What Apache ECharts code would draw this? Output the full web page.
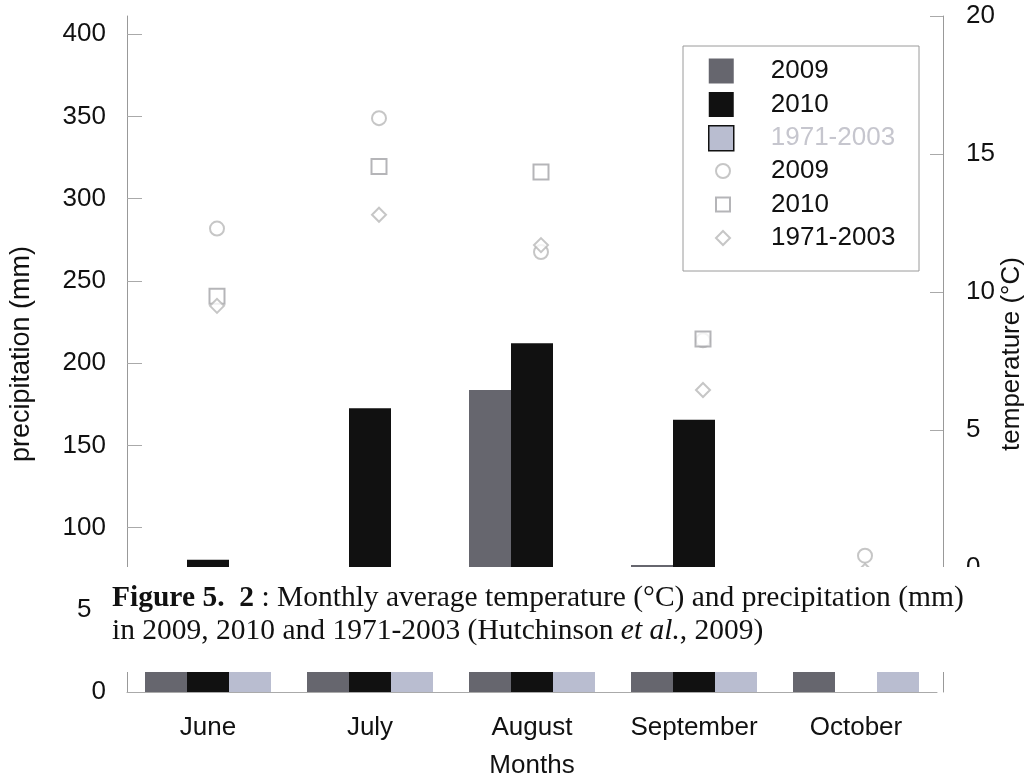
<!DOCTYPE html>
<html>
<head>
<meta charset="utf-8">
<script src="https://cdn.jsdelivr.net/npm/echarts@6/dist/echarts.min.js"></script>
<style>
  html, body { margin: 0; padding: 0; background: #fff; }
  #chart { width: 1028px; height: 780px; }
</style>
</head>
<body>
<div id="chart"></div>
<script>
// ---- data ----
const categories = ['June', 'July', 'August', 'September', 'October'];
// precipitation (mm), bars
const precip2009 = [60, 65, 183.7, 77.3, 52];
const precip2010 = [80.4, 172.6, 212.1, 165.5, null];
const precipNormal = [70, 72, 74, 70, 64];
// temperature (°C), markers
const temp2009 = [12.3, 16.3, 11.45, 8.25, 0.45];
const temp2010 = [9.85, 14.55, 14.35, 8.3, null];
const tempNormal = [9.5, 12.8, 11.7, 6.45, -0.1];
// tick labels
const precipTicks = [0, 50, 100, 150, 200, 250, 300, 350, 400];
const tempTicks = [0, 5, 10, 15, 20];
const seriesLabels = ['2009', '2010', '1971-2003'];

const SANS = 'Liberation Sans, Arial, sans-serif';
const SERIF = 'Liberation Serif, Times New Roman, serif';

const chart = echarts.init(document.getElementById('chart'), null, { renderer: 'canvas' });

const option = {
  animation: false,
  backgroundColor: '#ffffff',
  grid: { left: 127, top: 16, width: 810, height: 676, show: false,
          containLabel: false, outerBoundsMode: 'none' },
  legend: [
    {
      data: [
        { name: seriesLabels[0], icon: 'rect' },
        { name: seriesLabels[1], icon: 'rect' },
        { name: seriesLabels[2], icon: 'rect', textStyle: { color: '#c6c6ce' },
          itemStyle: { borderColor: '#111', borderWidth: 1.5 } }
      ],
      orient: 'vertical', left: 708, top: 58, padding: 0,
      itemWidth: 25, itemHeight: 25, itemGap: 7.5, selectedMode: false,
      textStyle: { fontSize: 26, lineHeight: 26, color: '#111', fontFamily: SANS, padding: [0, 0, 0, 32] }
    },
    {
      data: seriesLabels.map(s => s + ' '),
      formatter: n => n.trim(),
      orient: 'vertical', left: 715, top: 158, padding: 0,
      itemWidth: 14, itemHeight: 14, itemGap: 7.5, selectedMode: false,
      textStyle: { fontSize: 26, lineHeight: 26, color: '#111', fontFamily: SANS, padding: [0, 0, 0, 36] }
    }
  ],
  xAxis: [
    {
      type: 'category', data: categories, position: 'bottom',
      axisLine: { lineStyle: { color: '#aaaaaa', width: 1 } },
      axisTick: { inside: true, length: 7, lineStyle: { color: '#999' } },
      axisLabel: { interval: 0, fontSize: 26, color: '#111', margin: 23, fontFamily: SANS },
      name: 'Months', nameLocation: 'middle', nameGap: 61, nameMoveOverlap: false,
      nameTextStyle: { fontSize: 26, color: '#111', fontFamily: SANS }
    },
    {
      type: 'category', data: categories, position: 'top',
      axisLine: { lineStyle: { color: '#999', width: 1 } },
      axisTick: { inside: true, length: 16, lineStyle: { color: '#aaa' } },
      axisLabel: { show: false }
    }
  ],
  yAxis: [
    {
      type: 'value', min: 0, max: 411.1, position: 'left',
      splitLine: { show: false },
      axisLine: { show: true, lineStyle: { color: '#999', width: 1 } },
      axisTick: { show: true, inside: true, length: 15, customValues: precipTicks, lineStyle: { color: '#aaa' } },
      axisLabel: { customValues: precipTicks, fontSize: 26, color: '#111', margin: 21, fontFamily: SANS },
      name: 'precipitation (mm)', nameLocation: 'middle', nameRotate: 90, nameGap: 92, nameMoveOverlap: false,
      nameTextStyle: { fontSize: 27, color: '#111', fontFamily: SANS }
    },
    {
      type: 'value', min: -4.49, max: 20, position: 'right', offset: 6,
      splitLine: { show: false },
      axisLine: { show: true, lineStyle: { color: '#999', width: 1 } },
      axisTick: { show: true, inside: true, length: 13, customValues: tempTicks, lineStyle: { color: '#aaa' } },
      axisLabel: { customValues: tempTicks, fontSize: 26, color: '#111', margin: 23, fontFamily: SANS },
      name: 'temperature (°C)', nameLocation: 'middle', nameRotate: 90, nameGap: 56, nameMoveOverlap: false,
      nameTextStyle: { fontSize: 26, color: '#111', fontFamily: SANS }
    }
  ],
  series: [
    { type: 'bar', name: seriesLabels[0], data: precip2009, barWidth: 42, barGap: '0%',
      itemStyle: { color: '#66666e' } },
    { type: 'bar', name: seriesLabels[1], data: precip2010, barWidth: 42, barGap: '0%',
      itemStyle: { color: '#111111' } },
    { type: 'bar', name: seriesLabels[2], data: precipNormal, barWidth: 42, barGap: '0%',
      itemStyle: { color: '#b9bdd0' } },
    { type: 'scatter', name: seriesLabels[0] + ' ', data: temp2009, yAxisIndex: 1,
      symbol: 'emptyCircle', symbolSize: 14, symbolOffset: [9, 0],
      itemStyle: { color: '#b8b8b8', borderColor: '#b8b8b8', borderWidth: 1.5 } },
    { type: 'scatter', name: seriesLabels[1] + ' ', data: temp2010, yAxisIndex: 1,
      symbol: 'emptyRect', symbolSize: 15, symbolOffset: [9, 0],
      itemStyle: { color: '#a2a2a6', borderColor: '#a2a2a6', borderWidth: 1.5 } },
    { type: 'scatter', name: seriesLabels[2] + ' ', data: tempNormal, yAxisIndex: 1,
      symbol: 'emptyDiamond', symbolSize: 14, symbolOffset: [9, 0],
      itemStyle: { color: '#b8b8b8', borderColor: '#b8b8b8', borderWidth: 1.5 } }
  ],
  graphic: [
    { type: 'rect', z: 3, shape: { x: 683, y: 46, width: 236, height: 225 },
      style: { fill: '#fff', stroke: '#9a9a9a', lineWidth: 1 } },
    { type: 'rect', z: 100, shape: { x: 91, y: 567, width: 937, height: 105 },
      style: { fill: '#fff' } },
    { type: 'text', z: 101, x: 112, y: 598,
      style: {
        text: '{b|Figure 5.  2} : Monthly average temperature (°C) and precipitation (mm)',
        fontSize: 29.5, fontFamily: SERIF, fill: '#111', verticalAlign: 'middle',
        rich: { b: { fontWeight: 'bold', fontSize: 29.5, fontFamily: SERIF, fill: '#111' } }
      } },
    { type: 'text', z: 101, x: 112, y: 631,
      style: {
        text: 'in 2009, 2010 and 1971-2003 (Hutchinson {i|et al.}, 2009)',
        fontSize: 29.5, fontFamily: SERIF, fill: '#111', verticalAlign: 'middle',
        rich: { i: { fontStyle: 'italic', fontSize: 29.5, fontFamily: SERIF, fill: '#111' } }
      } }
  ]
};

chart.setOption(option);
</script>
</body>
</html>
